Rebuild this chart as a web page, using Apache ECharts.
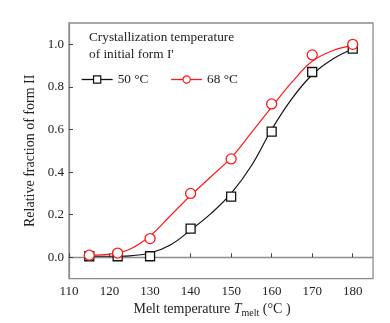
<!DOCTYPE html>
<html>
    <head>
        <meta charset="utf-8">
        <script src="https://cdn.jsdelivr.net/npm/echarts@6/dist/echarts.min.js"></script>
    </head>
    <body style="margin:0">
        <style>
            html, body, #main {
                width: 390px;
                height: 323px;
            }
        </style>
        <div id="main"></div>
        <script>
            // measured points
            var meltTemp = [115, 122, 130, 140, 150, 160, 170, 180];
            var frac50 = [0.005, 0.005, 0.005, 0.135, 0.285, 0.59, 0.87, 0.98];
            var frac68 = [0.01, 0.02, 0.088, 0.30, 0.462, 0.72, 0.95, 1.0];

            // fitted curves
            var fitTemp = [115, 120, 125, 130, 135, 140, 145, 150, 155, 160, 165, 170, 175, 180];
            var fit50 = [0.005, 0.005, 0.007, 0.02, 0.058, 0.128, 0.205, 0.30, 0.43, 0.60, 0.745, 0.857, 0.93, 0.978];
            var fit68 = [0.01, 0.015, 0.038, 0.10, 0.195, 0.29, 0.378, 0.468, 0.585, 0.705, 0.822, 0.92, 0.97, 0.995];

            var yTicks = [0, 0.2, 0.4, 0.6, 0.8, 1.0];

            function pairs(xs, ys) {
                return xs.map(function (x, i) { return [x, ys[i]]; });
            }

            var chart = echarts.init(document.getElementById('main'));
            var font = 'Liberation Serif';
            var axisColor = '#8c8c8c';

            chart.setOption({
                animation: false,
                textStyle: {fontFamily: font},
                title: {
                    text: "Crystallization temperature\nof initial form I'",
                    left: 89,
                    top: 29,
                    padding: 0,
                    textStyle: {
                        fontFamily: font,
                        fontSize: 13.3,
                        fontWeight: 'normal',
                        color: '#222',
                        lineHeight: 17
                    }
                },
                legend: {
                    data: ['50 °C', '68 °C'],
                    left: 81,
                    top: 73,
                    padding: 0,
                    itemWidth: 31,
                    itemHeight: 9,
                    itemGap: 22,
                    itemStyle: {borderWidth: 1.2},
                    lineStyle: {opacity: 1, width: 1.3},
                    textStyle: {fontFamily: font, fontSize: 13.3, color: '#222'}
                },
                grid: {
                    left: 69,
                    right: 17,
                    top: 23,
                    bottom: 44,
                    show: true,
                    borderColor: axisColor,
                    borderWidth: 1.3
                },
                xAxis: {
                    type: 'value',
                    min: 110,
                    max: 185,
                    interval: 10,
                    name: 'Melt temperature {i|T}{sub|melt} (°C )',
                    nameLocation: 'middle',
                    nameGap: 22,
                    nameTextStyle: {
                        fontFamily: font,
                        fontSize: 14,
                        color: '#222',
                        padding: [0, 18, 0, 0],
                        rich: {
                            i: {fontFamily: font, fontSize: 14, fontStyle: 'italic', color: '#222'},
                            sub: {fontFamily: font, fontSize: 10, color: '#222', padding: [7, 0, 0, 0]}
                        }
                    },
                    axisLine: {lineStyle: {color: axisColor, width: 1.3}},
                    axisTick: {inside: true, length: 4, lineStyle: {color: '#444'}},
                    axisLabel: {fontFamily: font, fontSize: 13, color: '#222', margin: 6, showMaxLabel: false},
                    splitLine: {show: false}
                },
                yAxis: {
                    type: 'value',
                    min: -0.1,
                    max: 1.1,
                    name: 'Relative fraction of form II',
                    nameLocation: 'middle',
                    nameGap: 30,
                    nameTextStyle: {fontFamily: font, fontSize: 14, color: '#222'},
                    axisLine: {show: true, lineStyle: {color: axisColor, width: 1.3}},
                    axisTick: {show: true, inside: true, length: 4, customValues: yTicks, lineStyle: {color: '#444'}},
                    axisLabel: {
                        fontFamily: font, fontSize: 13, color: '#222', margin: 5,
                        customValues: yTicks,
                        formatter: function (v) { return v.toFixed(1); }
                    },
                    splitLine: {show: false}
                },
                series: [
                    {
                        name: '50 °C fit',
                        type: 'line',
                        smooth: 0.4,
                        showSymbol: false,
                        data: pairs(fitTemp, fit50),
                        lineStyle: {color: '#111', width: 1.2},
                        z: 2
                    },
                    {
                        name: '68 °C fit',
                        type: 'line',
                        smooth: 0.4,
                        showSymbol: false,
                        data: pairs(fitTemp, fit68),
                        lineStyle: {color: '#ff1a1a', width: 1.2},
                        z: 2
                    },
                    {
                        name: '50 °C',
                        type: 'line',
                        symbol: 'rect',
                        symbolSize: 9,
                        data: pairs(meltTemp, frac50),
                        itemStyle: {color: '#fff', borderColor: '#111', borderWidth: 1.3},
                        lineStyle: {color: '#111', opacity: 0},
                        z: 3
                    },
                    {
                        name: '68 °C',
                        type: 'line',
                        symbol: 'circle',
                        symbolSize: 10,
                        data: pairs(meltTemp, frac68),
                        itemStyle: {color: '#fff', borderColor: '#ff1a1a', borderWidth: 1.3},
                        lineStyle: {color: '#ff1a1a', opacity: 0},
                        z: 3
                    }
                ]
            });
        </script>
    </body>
</html>
